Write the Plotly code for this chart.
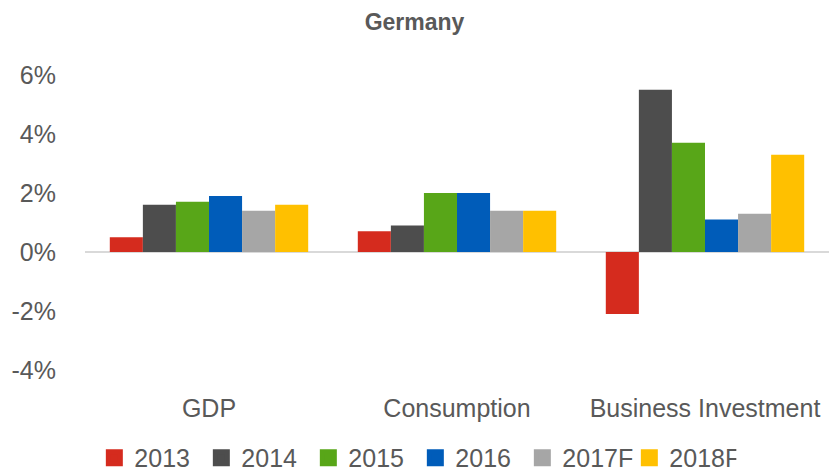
import plotly.graph_objects as go

categories = ["GDP", "Consumption", "Business Investment"]
series_names = ["2013", "2014", "2015", "2016", "2017F", "2018F"]
v2013 = [0.5, 0.7, -2.1]
v2014 = [1.6, 0.9, 5.5]
v2015 = [1.7, 2.0, 3.7]
v2016 = [1.9, 2.0, 1.1]
v2017F = [1.4, 1.4, 1.3]
v2018F = [1.6, 1.4, 3.3]
values = [v2013, v2014, v2015, v2016, v2017F, v2018F]
colors = ["#D52B1E", "#4D4D4D", "#58A618", "#005CB9", "#A6A6A6", "#FFC000"]
tick_vals = [-4, -2, 0, 2, 4, 6]
tick_text = ["-4%", "-2%", "0%", "2%", "4%", "6%"]

FONT = "Liberation Sans Narrow, Arial Narrow, Liberation Sans, sans-serif"

fig = go.Figure()
for name, vals, c in zip(series_names, values, colors):
    fig.add_trace(go.Bar(name=name, x=categories, y=vals, showlegend=False,
                         marker=dict(color=c, line=dict(width=0))))
# legend-only entries (on hidden axes) so legend squares can be larger
for name, c in zip(series_names, colors):
    fig.add_trace(go.Bar(name=name, x=[None], y=[None], xaxis="x2", yaxis="y2",
                         marker=dict(color=c, line=dict(color=c, width=5)), hoverinfo="skip"))

fig.update_layout(
    width=829, height=473,
    barmode="group", bargap=0.2, bargroupgap=0,
    plot_bgcolor="white", paper_bgcolor="white",
    margin=dict(l=85, r=0, t=75, b=103, autoexpand=False),
    font=dict(family=FONT, color="#595959", size=25),
    title=dict(text="<b>Germany</b>", x=0.5, xanchor="center", y=0.953, yanchor="middle",
               font=dict(family=FONT, size=23, color="#595959")),
    showlegend=True,
    legend=dict(orientation="h", x=0.444, xanchor="center", y=-0.298, yanchor="middle",
                font=dict(size=25, color="#595959"), itemwidth=30, traceorder="normal",
                bgcolor="rgba(0,0,0,0)", entrywidth=62, entrywidthmode="pixels"),
    xaxis=dict(showgrid=False, showline=False, ticks="", tickfont=dict(size=25),
               ticklabelstandoff=21, automargin=False),
    yaxis=dict(range=[-4, 6], tickvals=tick_vals, ticktext=tick_text, showgrid=False,
               zeroline=True, zerolinecolor="#D9D9D9", zerolinewidth=2,
               showline=False, ticks="", tickfont=dict(size=25), ticklabelstandoff=28,
               automargin=False),
    xaxis2=dict(visible=False, overlaying="x", domain=[0, 1]),
    yaxis2=dict(visible=False, overlaying="y"),
)

fig.write_html("out.html", config={"displayModeBar": False},
               post_script="document.body.style.margin='0';document.body.style.overflow='hidden';")
